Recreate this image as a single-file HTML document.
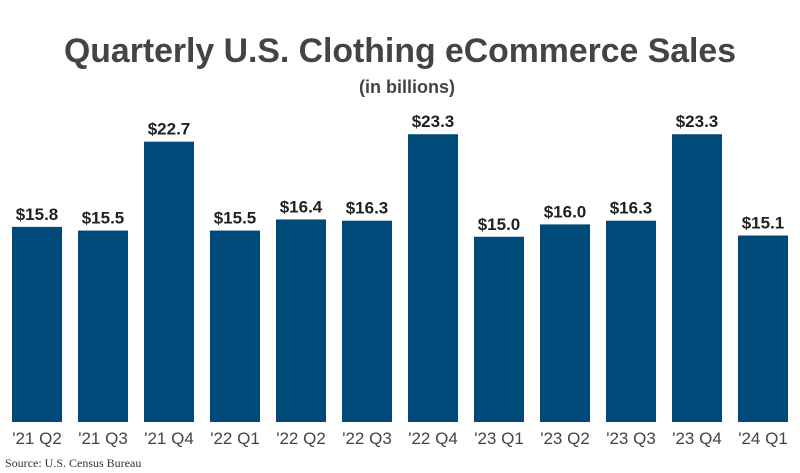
<!DOCTYPE html>
<html><head><meta charset="utf-8"><style>
body{margin:0;background:#fff;}
svg{display:block;font-family:"Liberation Sans",sans-serif;}
</style></head><body>
<svg width="800" height="473">
<text x="400" y="62" text-anchor="middle" font-size="34" font-weight="bold" fill="#444" textLength="672" lengthAdjust="spacingAndGlyphs">Quarterly U.S. Clothing eCommerce Sales</text>
<text x="407" y="93" text-anchor="middle" font-size="18" font-weight="bold" fill="#444">(in billions)</text>
<g id="bars"></g>
<text x="5" y="467" font-family="Liberation Serif,serif" font-size="12" fill="#333">Source: U.S. Census Bureau</text>
</svg>
<script>
const categories=["'21 Q2","'21 Q3","'21 Q4","'22 Q1","'22 Q2","'22 Q3","'22 Q4","'23 Q1","'23 Q2","'23 Q3","'23 Q4","'24 Q1"];
const values=[15.8,15.5,22.7,15.5,16.4,16.3,23.3,15.0,16.0,16.3,23.3,15.1];
const valueLabels=["$15.8","$15.5","$22.7","$15.5","$16.4","$16.3","$23.3","$15.0","$16.0","$16.3","$23.3","$15.1"];
const baseY=422, scale=12.35, x0=12, step=66, bw=50;
const xPos=i=>x0+i*step;
const yPos=v=>baseY-v*scale;
const g=document.getElementById('bars');
const NS='http://www.w3.org/2000/svg';
categories.forEach((c,i)=>{
  const r=document.createElementNS(NS,'rect');
  
  
  r.setAttribute('x',xPos(i));r.setAttribute('y',yPos(values[i]));
  r.setAttribute('width',bw);r.setAttribute('height',baseY-yPos(values[i]));
  r.setAttribute('fill','#004a7a');g.appendChild(r);
  const t=document.createElementNS(NS,'text');
  
  
  t.setAttribute('x',xPos(i)+bw/2);t.setAttribute('y',yPos(values[i])-7);
  t.setAttribute('text-anchor','middle');t.setAttribute('font-size','17');t.setAttribute('font-weight','bold');t.setAttribute('fill','#222');
  t.textContent=valueLabels[i];g.appendChild(t);
  const l=document.createElementNS(NS,'text');
  
  
  l.setAttribute('x',xPos(i)+bw/2);l.setAttribute('y',444);
  l.setAttribute('text-anchor','middle');l.setAttribute('font-size','17');l.setAttribute('fill','#444');
  l.textContent=c;g.appendChild(l);
});
</script>
</body></html>
